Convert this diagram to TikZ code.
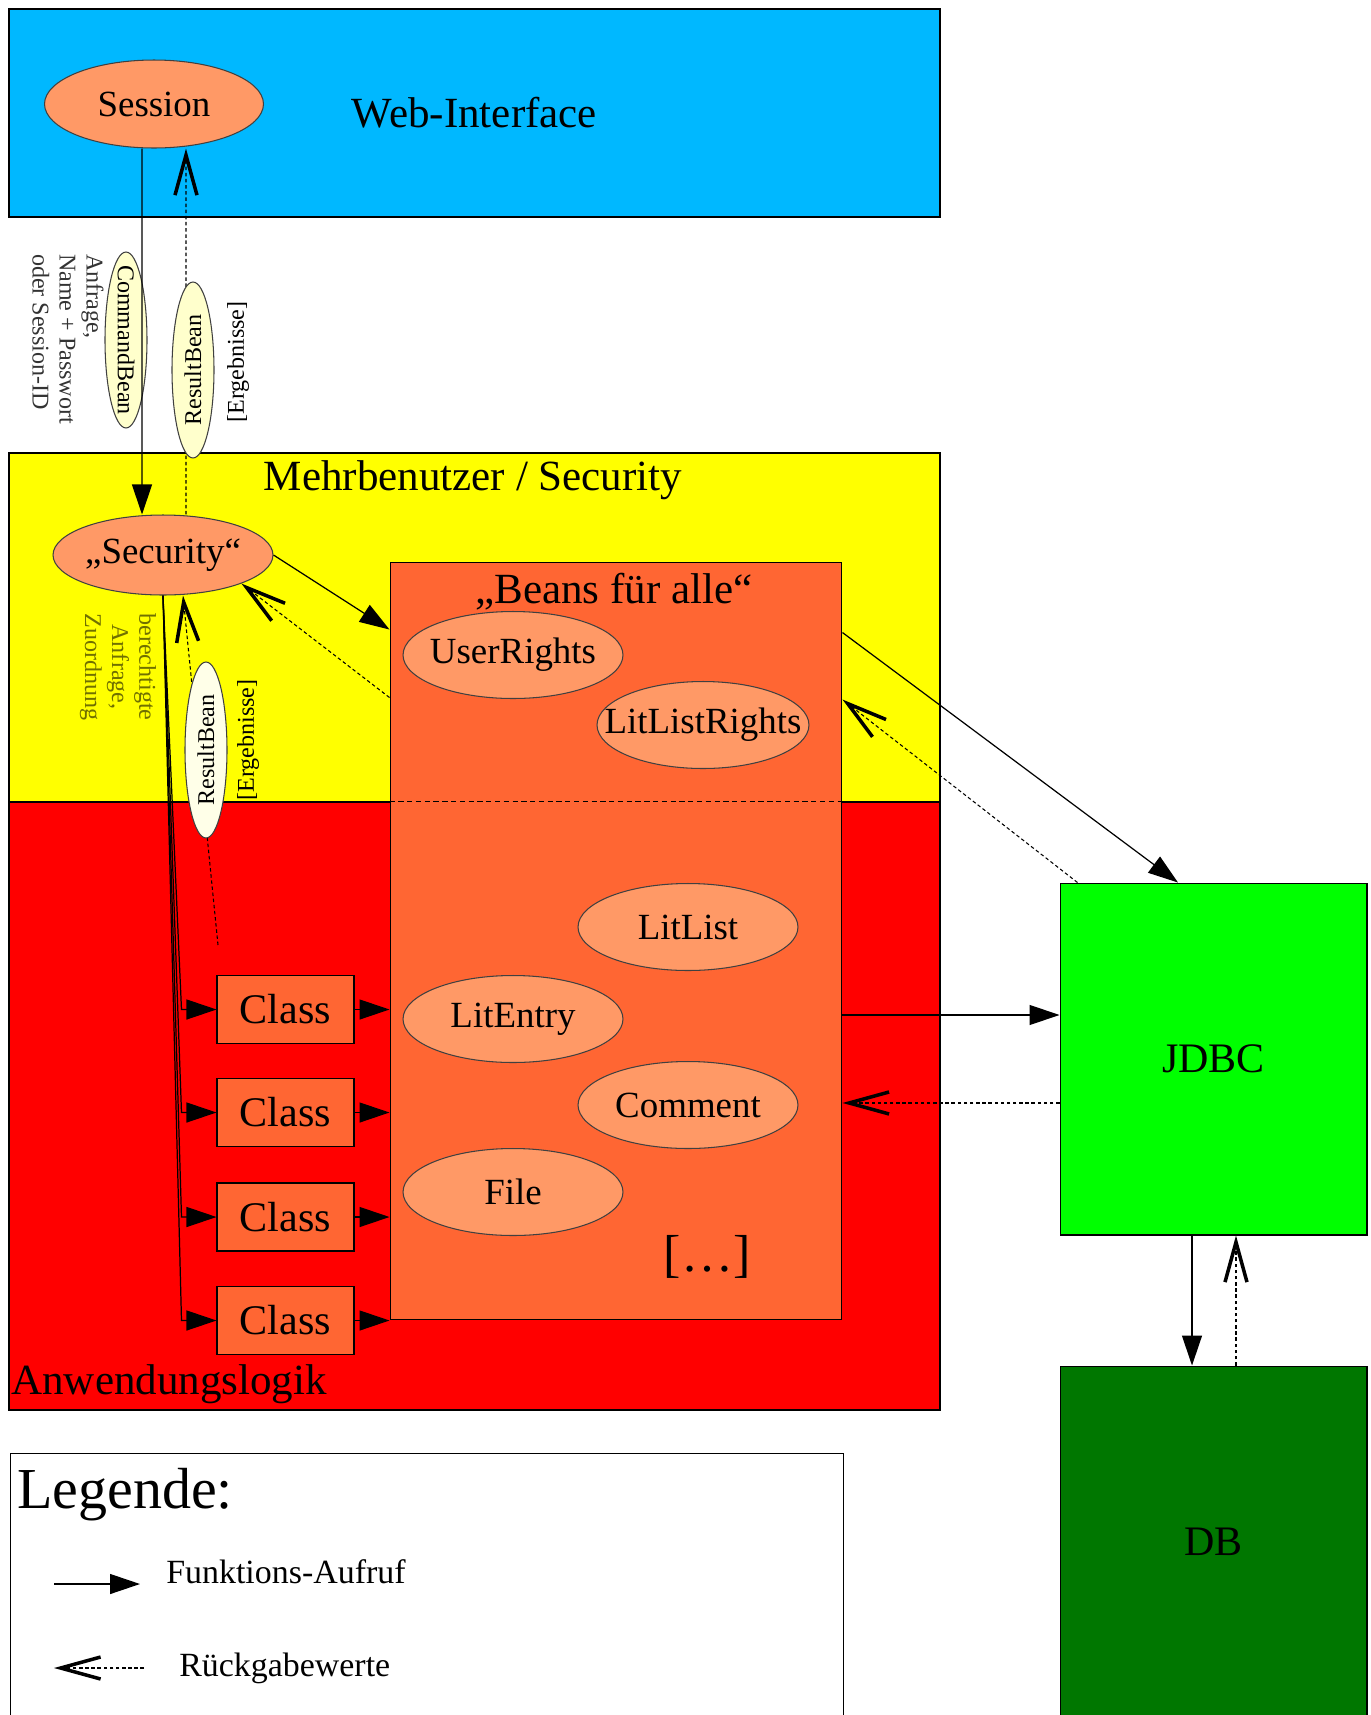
\documentclass[tikz,border=0pt]{standalone}
\usepackage{fontspec}
\setmainfont{Liberation Serif}
\usepackage{xcolor}
\usepackage{tikz}
\usetikzlibrary{shapes.geometric,arrows.meta}

\definecolor{webblue}{RGB}{0,184,255}
\definecolor{secyellow}{RGB}{255,255,0}
\definecolor{appred}{RGB}{255,0,0}
\definecolor{beanorange}{RGB}{255,102,51}
\definecolor{ovalsalmon}{RGB}{255,153,102}
\definecolor{notecream}{RGB}{255,255,204}
\definecolor{notepale}{RGB}{255,255,232}
\definecolor{jdbcgreen}{RGB}{0,255,0}
\definecolor{dbgreen}{RGB}{0,119,0}
\definecolor{labelolive}{RGB}{112,112,0}

\begin{document}
\begin{tikzpicture}[x=0.02cm, y=-0.02cm,
  layer/.style={draw, line width=0.8pt, minimum width=18.62cm, inner sep=0pt, font=\fontsize{24.5}{28}\selectfont},
  oval/.style={ellipse, draw=black!75, line width=0.6pt, fill=ovalsalmon, inner sep=0pt, minimum width=4.4cm, minimum height=1.74cm, label={[font=\fontsize{21}{25}\selectfont]center:#1}},
  note/.style={ellipse, draw=black!75, line width=0.6pt, fill=notecream, inner sep=0pt, minimum width=0.84cm, minimum height=3.52cm},
  small/.style={font=\fontsize{13.7}{15.4}\selectfont, inner sep=0pt},
  big/.style={font=\fontsize{24.5}{28}\selectfont, inner sep=0pt},
  cls/.style={draw, line width=0.6pt, fill=beanorange, minimum width=2.74cm, minimum height=1.36cm, font=\fontsize{24}{28}\selectfont},
  call/.style={line width=0.7pt, -{Triangle[length=0.6cm, width=0.4cm]}},
  ret/.style={line width=0.6pt, dash pattern=on 2pt off 1.5pt, -{Straight Barb[length=0.8cm, width=0.44cm, line width=2pt]}},
]
\useasboundingbox (0,0) rectangle (1370,1715);

\node[layer, fill=webblue, minimum height=4.16cm] (web) at (474.5,113) {Web-Interface};
\node[layer, fill=secyellow, minimum height=6.98cm] (sec) at (474.5,627.5) {};
\node[layer, fill=appred, minimum height=12.16cm] (app) at (474.5,1106) {};
\node[big] (secTitle) at (473,480) {Mehrbenutzer / Security};
\node[big, anchor=base west] (appTitle) at (11,1394) {Anwendungslogik};

\node[draw, line width=0.6pt, fill=beanorange, minimum width=9.04cm, minimum height=15.16cm] (beans) at (616,941) {};
\draw[dash pattern=on 3pt off 2pt, line width=0.6pt] (beans.west |- app.north) -- (beans.east |- app.north);
\node[big] (beansTitle) at (614,592) {„Beans für alle“};

\node[draw, line width=0.6pt, fill=jdbcgreen, minimum width=6.14cm, minimum height=7.04cm, font=\fontsize{23.9}{28}\selectfont] (jdbc) at (1213.5,1059) {JDBC};
\node[draw, line width=0.6pt, fill=dbgreen, minimum width=6.14cm, minimum height=7.04cm, font=\fontsize{23.9}{28}\selectfont] (db) at (1213.5,1542) {DB};

\node[oval=Session, minimum width=4.38cm, minimum height=1.76cm] (session) at (154,104) {};
\node[oval=„Security“, minimum height=1.6cm] (security) at (163,555) {};
\node[oval=UserRights] (userrights) at (513,655) {};
\node[oval=LitListRights, minimum width=4.24cm] (litlistrights) at (703,725) {};
\node[oval=LitList] (litlist) at (688,927) {};
\node[oval=LitEntry] (litentry) at (513,1019) {};
\node[oval=Comment] (comment) at (688,1105) {};
\node[oval=File] (file) at (513,1192) {};
\node[font=\fontsize{29.6}{34}\selectfont] (more) at (707,1257) {[…]};

\draw[ret] ([xshift=0.46cm]security.north) -- ([xshift=0.64cm]session.south);
\coordinate (resStart) at (218,945);
\draw[ret] (resStart) -- ([xshift=0.4cm]security.south);

\node[note, label={[rotate=-90, font=\fontsize{13.7}{15.4}\selectfont]center:CommandBean}] (cmdBean) at (126,340) {};
\node[note, label={[rotate=90, font=\fontsize{13.7}{15.4}\selectfont]center:ResultBean}] (resBeanTop) at (193,370) {};
\node[note, fill=notepale, label={[rotate=90, font=\fontsize{13.7}{15.4}\selectfont]center:ResultBean}] (resBeanLow) at (206,750) {};
\node[small, rotate=-90, align=left, text=black!80] (cmdNote) at (68,339) {Anfrage,\\Name + Passwort\\oder Session-ID};
\node[small, rotate=90] (resNoteTop) at (238,362) {[Ergebnisse]};
\node[small, rotate=90] (resNoteLow) at (248,740) {[Ergebnisse]};
\node[small, rotate=-90, align=center, text=labelolive] (secNote) at (118,667) {berechtigte\\Anfrage,\\Zuordnung};

\draw[call] ([xshift=-0.24cm]session.south) -- ([xshift=-0.42cm]security.north);
\draw[call] (security.east) -- ([yshift=-1.36cm]beans.north west);
\draw[ret] ([yshift=-2.72cm]beans.north west) -- (security.-20);

\foreach \i/\y in {1/1009.5, 2/1112.5, 3/1217, 4/1320.5}{
  \node[cls] (cls\i) at (285.5,\y) {Class};
  \draw[call] (security.south) -- ([xshift=-0.7cm]cls\i.west) -- (cls\i.west);
  \draw[call] (cls\i.east) -- (cls\i.east -| beans.west);
}

\draw[call] ([yshift=-1.42cm]beans.north east) -- ([xshift=-0.71cm]jdbc.north);
\draw[ret] ([xshift=0.36cm]jdbc.north west) -- ([yshift=-2.76cm]beans.north east);
\path ([yshift=-1.48cm]beans.east) coordinate (beansOut) ([yshift=-3.24cm]beans.east) coordinate (beansIn);
\draw[call] (beansOut) -- (beansOut -| jdbc.west);
\draw[ret] (beansIn -| jdbc.west) -- (beansIn);
\draw[call] ([xshift=-0.43cm]jdbc.south) -- ([xshift=-0.43cm]db.north);
\draw[ret] ([xshift=0.45cm]db.north) -- ([xshift=0.45cm]jdbc.south);

\node[draw, line width=0.6pt, fill=white, minimum width=16.66cm, minimum height=5.4cm, anchor=north west] (legend) at (10,1453) {};
\node[font=\fontsize{33}{38}\selectfont, inner sep=0pt, anchor=base west] (legTitle) at (17,1508) {Legende:};
\coordinate (callA) at (54,1584);
\coordinate (callB) at (140,1584);
\draw[call] (callA) -- (callB);
\node[font=\fontsize{19.3}{22}\selectfont, inner sep=0pt, anchor=base west] (callText) at (166,1583) {Funktions-Aufruf};
\coordinate (retA) at (144,1668);
\coordinate (retB) at (54,1668);
\draw[ret] (retA) -- (retB);
\node[font=\fontsize{19.3}{22}\selectfont, inner sep=0pt, anchor=base west] (retText) at (179,1676) {Rückgabewerte};
\end{tikzpicture}
\end{document}
